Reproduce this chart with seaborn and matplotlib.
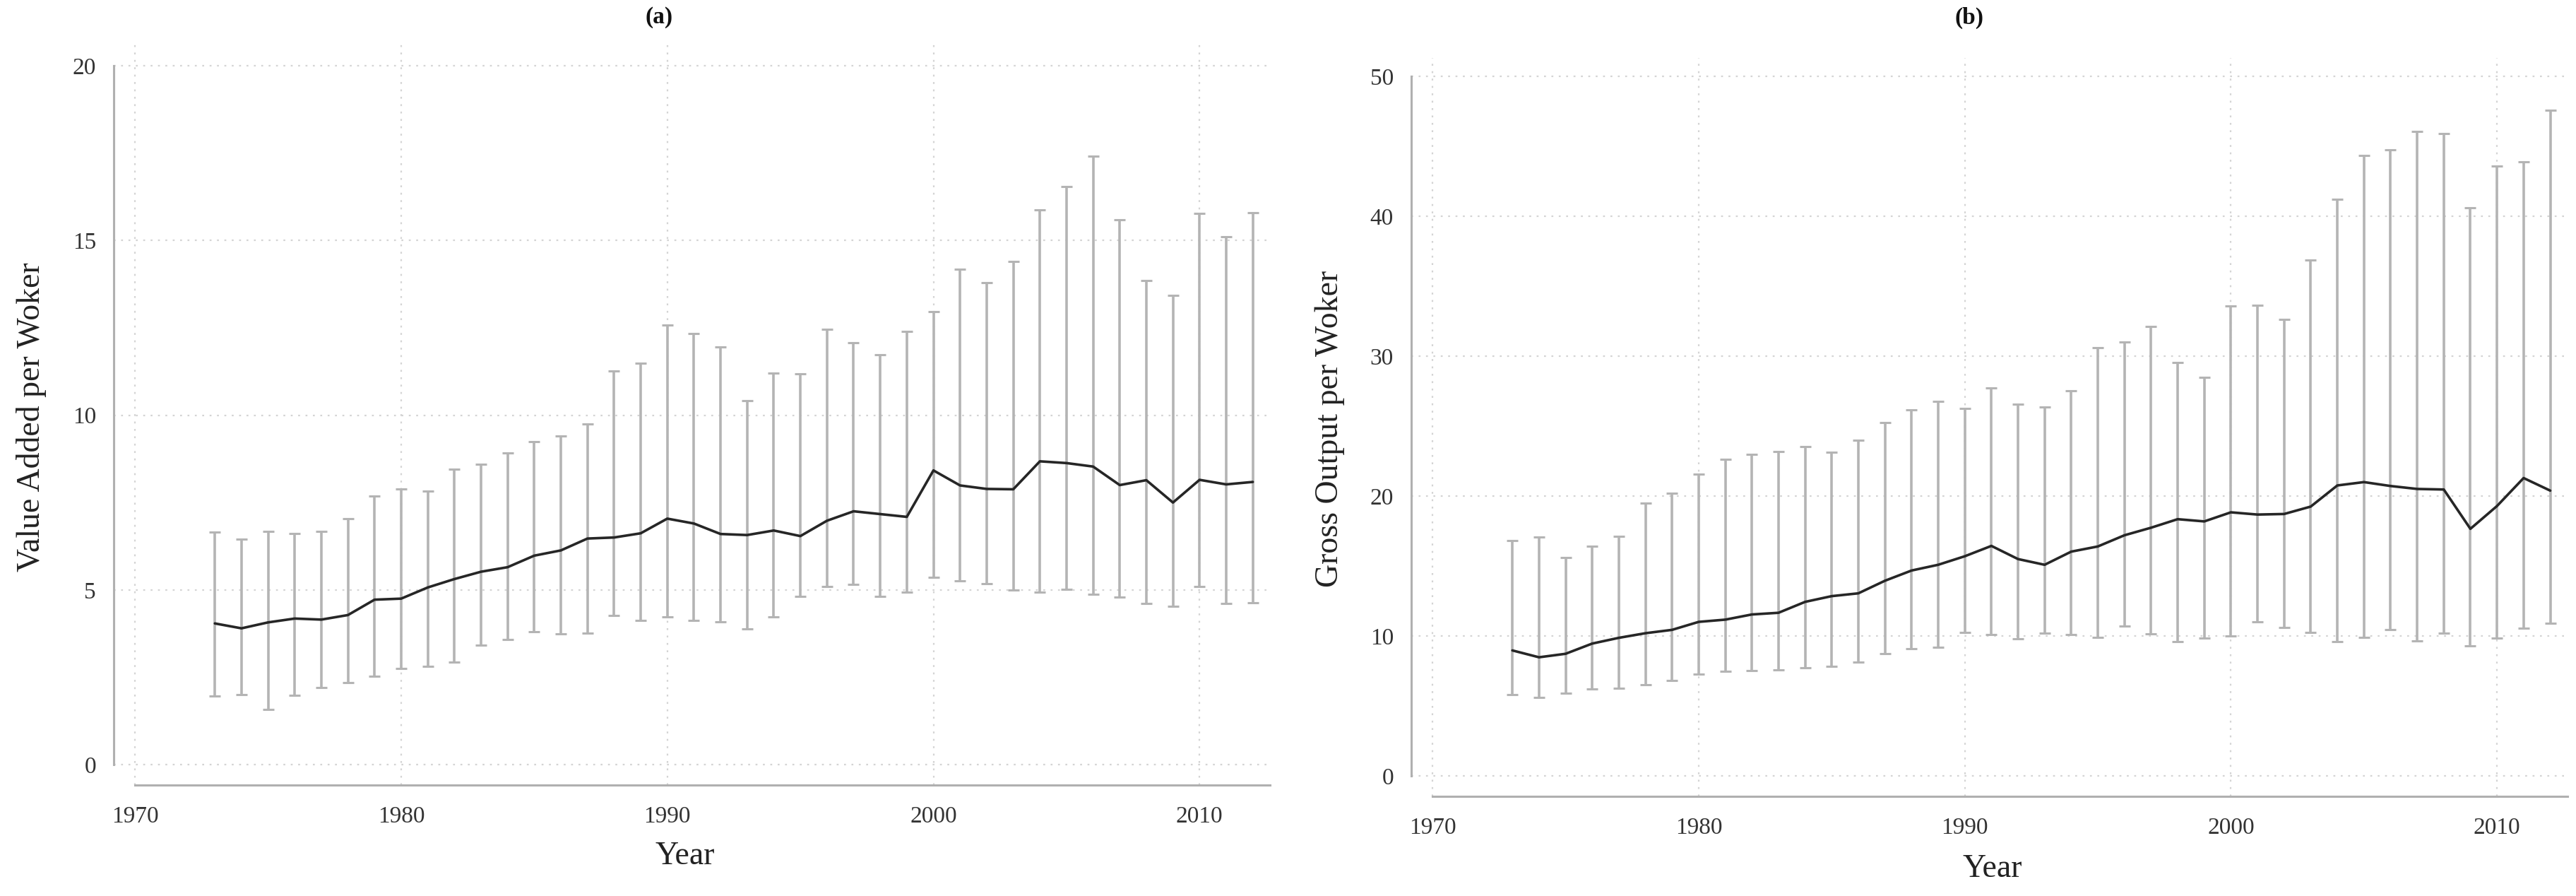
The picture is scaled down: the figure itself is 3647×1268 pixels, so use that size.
import matplotlib
matplotlib.use("Agg")
import matplotlib.pyplot as plt
import numpy as np
import seaborn as sns

sns.set_style("white")
plt.rcParams["font.family"] = ["Liberation Serif", "DejaVu Serif"]

years = list(range(1973, 2013))

# panel (a): value added per worker
va_mean = [4.04, 3.90, 4.07, 4.18, 4.15, 4.28, 4.72, 4.75, 5.07, 5.31,
           5.52, 5.65, 5.98, 6.13, 6.47, 6.50, 6.62, 7.04, 6.90, 6.60,
           6.57, 6.70, 6.54, 6.98, 7.25, 7.17, 7.09, 8.42, 7.99, 7.89,
           7.88, 8.68, 8.63, 8.53, 8.00, 8.14, 7.50, 8.15, 8.02, 8.09]
va_hi = [6.65, 6.45, 6.67, 6.62, 6.68, 7.04, 7.68, 7.88, 7.83, 8.46,
         8.59, 8.92, 9.25, 9.40, 9.74, 11.26, 11.49, 12.58, 12.34, 11.96,
         10.42, 11.21, 11.18, 12.45, 12.07, 11.73, 12.40, 12.96, 14.18, 13.79,
         14.41, 15.87, 16.54, 17.42, 15.60, 13.86, 13.43, 15.78, 15.10, 15.80]
va_lo = [1.96, 2.01, 1.57, 1.98, 2.20, 2.35, 2.53, 2.75, 2.81, 2.94,
         3.41, 3.58, 3.81, 3.74, 3.77, 4.26, 4.12, 4.23, 4.13, 4.08,
         3.89, 4.22, 4.82, 5.10, 5.15, 4.82, 4.93, 5.36, 5.26, 5.18,
         5.00, 4.93, 5.02, 4.87, 4.80, 4.61, 4.53, 5.10, 4.61, 4.64]

# panel (b): gross output per worker
go_mean = [8.97, 8.48, 8.73, 9.46, 9.87, 10.20, 10.44, 11.01, 11.17, 11.54,
           11.66, 12.44, 12.85, 13.05, 13.95, 14.68, 15.09, 15.70, 16.44, 15.50,
           15.09, 16.03, 16.40, 17.20, 17.74, 18.35, 18.19, 18.84, 18.68, 18.72,
           19.25, 20.76, 21.00, 20.72, 20.51, 20.47, 17.66, 19.29, 21.29, 20.39]
go_hi = [16.84, 17.05, 15.62, 16.44, 17.13, 19.49, 20.19, 21.57, 22.63, 22.96,
         23.20, 23.53, 23.12, 23.98, 25.24, 26.14, 26.79, 26.26, 27.73, 26.59,
         26.35, 27.53, 30.63, 31.00, 32.14, 29.57, 28.47, 33.61, 33.65, 32.63,
         36.87, 41.19, 44.33, 44.74, 46.04, 45.92, 40.62, 43.60, 43.88, 47.55]
go_lo = [5.83, 5.63, 5.91, 6.20, 6.28, 6.53, 6.81, 7.30, 7.46, 7.54,
         7.59, 7.75, 7.83, 8.12, 8.73, 9.09, 9.22, 10.28, 10.11, 9.79,
         10.20, 10.11, 9.91, 10.69, 10.15, 9.58, 9.87, 9.99, 11.01, 10.60,
         10.28, 9.58, 9.91, 10.48, 9.67, 10.20, 9.30, 9.83, 10.56, 10.89]

x_ticks = [1970, 1980, 1990, 2000, 2010]

fig = plt.figure(figsize=(36.47, 12.68), dpi=100)
ax_a = fig.add_axes([0.04415, 0.12382, 0.4489, 0.8265])
ax_b = fig.add_axes([0.54785, 0.1112, 0.44886, 0.8241])

panels = [
    (ax_a, va_mean, va_lo, va_hi, "Value Added per Woker", "(a)",
     list(range(0, 21, 5)), (-0.586, 20.61), (0.4716, 1.0286), (-0.0709, 0.497), (0.494, -0.0964)),
    (ax_b, go_mean, go_lo, go_hi, "Gross Output per Woker", "(b)",
     list(range(0, 51, 10)), (-1.46, 51.31), (0.4826, 1.0459), (-0.0703, 0.4976), (0.5027, -0.0986)),
]

for ax, mean, lo, hi, ylab, title, yticks, ylim, tpos, ypos, xpos in panels:
    mean = np.array(mean)
    err = [mean - np.array(lo), np.array(hi) - mean]
    ax.errorbar(years, mean, yerr=err, fmt="none", ecolor="#b4b4b4",
                elinewidth=2.6, capsize=6, capthick=2.2, zorder=2)
    sns.lineplot(x=years, y=mean, color="#262626", linewidth=2.6, ax=ax, zorder=3)

    ax.set_xlim(1969.2, 2012.65)
    ax.set_ylim(*ylim)
    ax.set_xticks(x_ticks)
    ax.set_yticks(yticks)
    ax.grid(True, linestyle=(0, (1.2, 3.5)), color="#d4d4d4", linewidth=1.6)
    ax.set_axisbelow(True)

    for side in ["top", "right"]:
        ax.spines[side].set_visible(False)
    ax.spines["left"].set_bounds(yticks[0], yticks[-1])
    ax.spines["bottom"].set_bounds(1970, 2012.65)
    for side in ["left", "bottom"]:
        ax.spines[side].set_color("#b0b0b0")
        ax.spines[side].set_linewidth(2.2)

    ax.tick_params(axis="both", direction="out", length=12, width=2.2,
                   color="#b0b0b0", labelsize=24, labelcolor="#333333")
    ax.tick_params(axis="y", pad=6)
    ax.tick_params(axis="x", pad=9)

    ax.set_xlabel("Year", fontsize=33, color="#222222")
    ax.xaxis.set_label_coords(*xpos)
    ax.xaxis.label.set_verticalalignment("center")
    ax.set_ylabel(ylab, fontsize=33, color="#222222")
    ax.yaxis.set_label_coords(*ypos)
    ax.yaxis.label.set_verticalalignment("center")

    ax.set_title(title, x=tpos[0], y=tpos[1], va="center",
                 fontsize=24, fontweight="bold", color="#111111")

fig.savefig("out.png", dpi=100, facecolor="white")
